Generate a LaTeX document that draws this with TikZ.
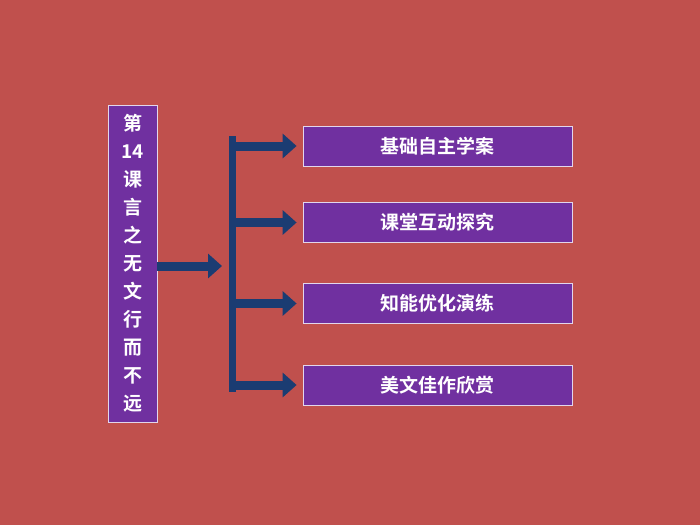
\documentclass[tikz,border=0pt]{standalone}
\usepackage{fontspec}
\newfontfamily\cjk{Noto Sans CJK SC Bold}
\usetikzlibrary{arrows.meta}
\definecolor{bgred}{HTML}{C0504D}
\definecolor{boxpurple}{HTML}{7030A0}
\definecolor{navy}{HTML}{1B3C72}
\tikzset{
  topicbox/.style={draw=white!80!boxpurple,line width=0.8pt,fill=boxpurple,text=white,font=\cjk\fontsize{19}{22}\selectfont,minimum width=269pt,minimum height=40pt,inner sep=0pt},
  fatarrow/.style={draw=navy,line width=9pt,-{Triangle[length=14pt,width=24pt]}}
}
\begin{document}
\begin{tikzpicture}[x=1pt,y=-1pt]
\useasboundingbox[fill=bgred] (0,0) rectangle (700,525);
\node[draw=white!80!boxpurple,line width=0.8pt,fill=boxpurple,text=white,font=\cjk\fontsize{19}{28}\selectfont,align=center,minimum width=49pt,minimum height=317pt,inner sep=0pt] (title) at (132.5,263.5) {第\\14\\课\\言\\之\\无\\文\\行\\而\\不\\远};
\node[fill=navy,minimum width=7pt,minimum height=256pt,inner sep=0pt] (bar) at (232.5,264) {};
\node[topicbox] (b1) at (437.5,146) {基础自主学案};
\node[topicbox] (b2) at (437.5,222.5) {课堂互动探究};
\node[topicbox] (b3) at (437.5,303.5) {知能优化演练};
\node[topicbox] (b4) at (437.5,385) {美文佳作欣赏};
\coordinate (barin) at (222,266);
\draw[fatarrow] (title.east |- barin) -- (barin);
\foreach \b in {b1,b2,b3,b4}
  \draw[fatarrow] (bar.east |- \b.west) -- ([xshift=-6pt]\b.west);
\end{tikzpicture}
\end{document}
